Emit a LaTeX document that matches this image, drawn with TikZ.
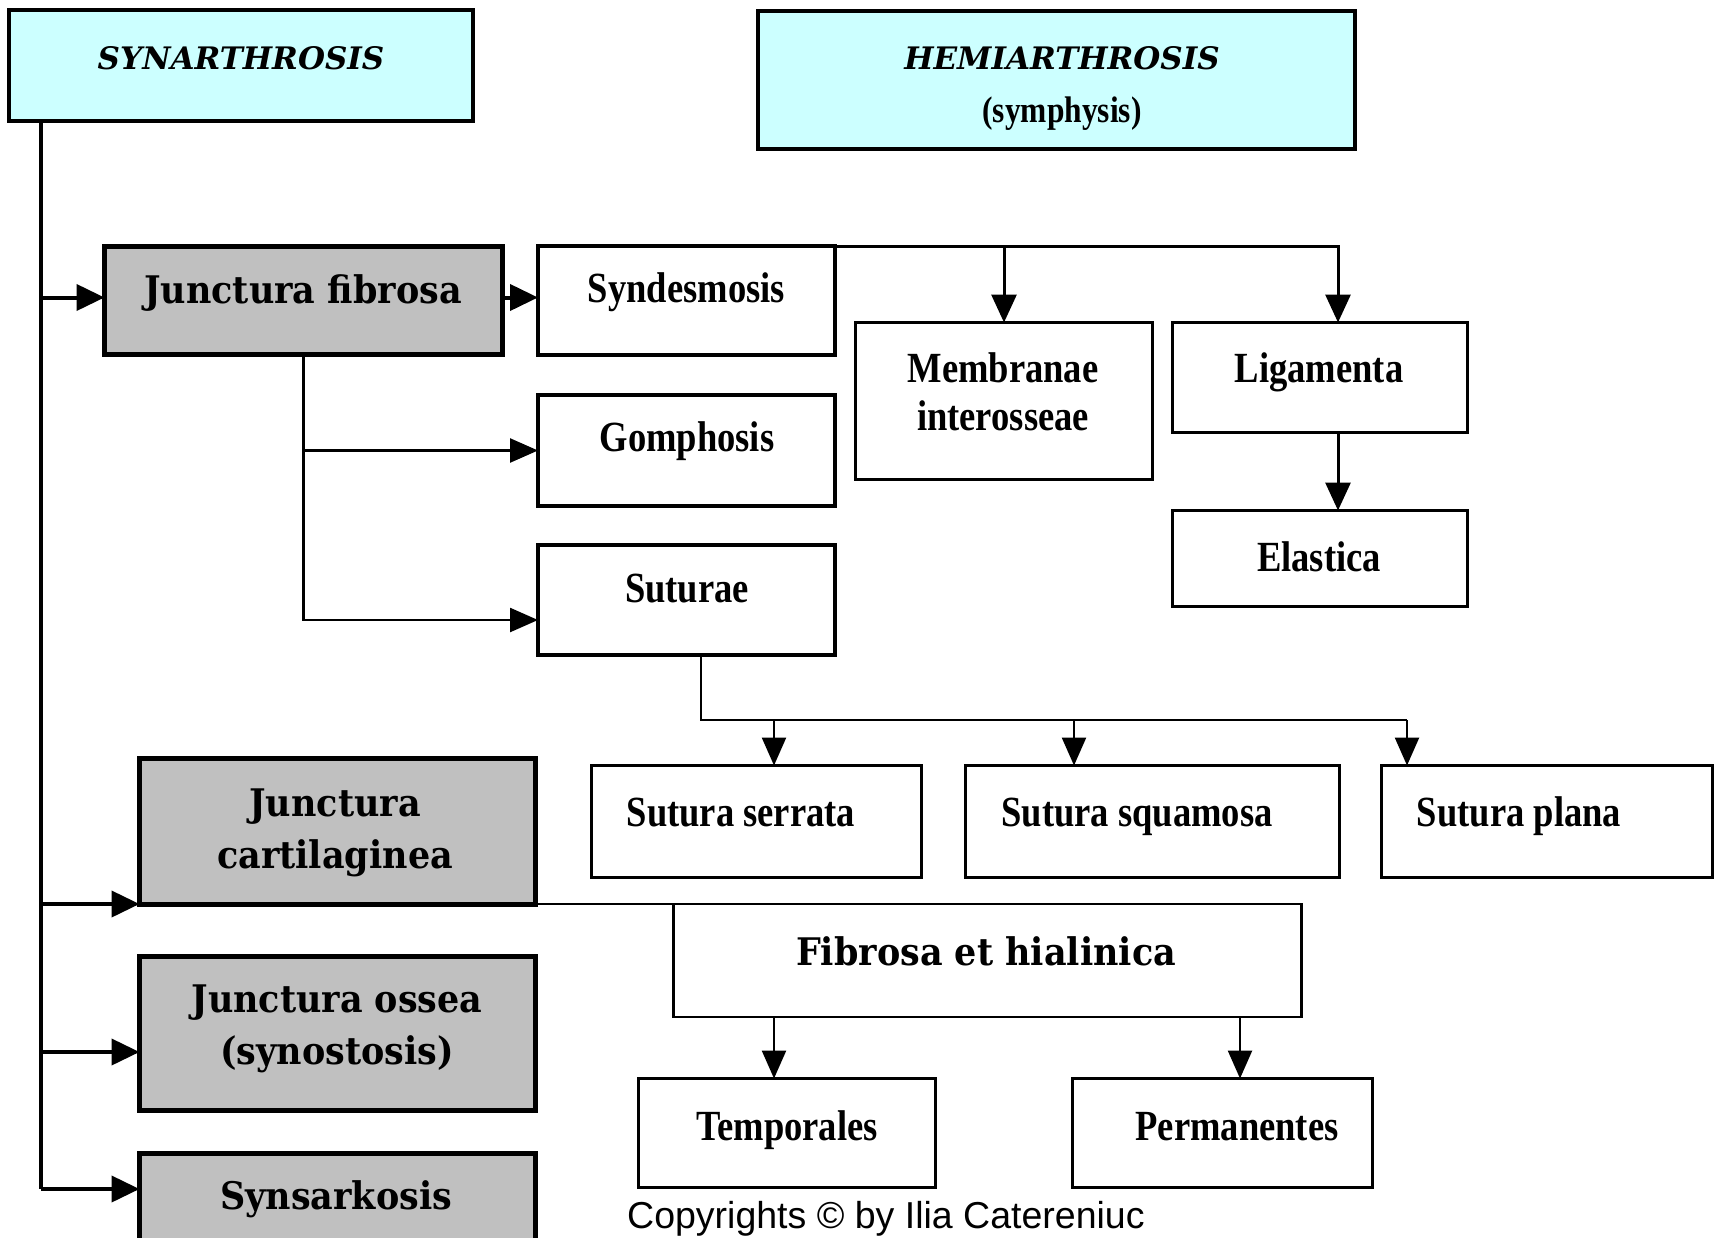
\documentclass[tikz,border=0pt]{standalone}
\usepackage{fontspec}
\usetikzlibrary{arrows.meta}

\newfontfamily\slabfont[FakeStretch=0.92]{DejaVu Serif}
\newfontfamily\condfont[FakeStretch=0.85]{Liberation Serif}
\newfontfamily\headfont{DejaVu Serif}
\newfontfamily\copyfont{Liberation Sans}

\definecolor{headcyan}{RGB}{204,255,255}
\definecolor{boxgray}{RGB}{192,192,192}

\tikzset{
  headbox/.style={draw, line width=4pt, fill=headcyan, outer sep=0pt},
  graybox/.style={draw, line width=5pt, fill=boxgray, outer sep=0pt},
  mainbox/.style={draw, line width=3.5pt, fill=white, outer sep=0pt},
  subbox/.style={draw, line width=2.5pt, fill=white, outer sep=0pt},
  headtxt/.style={font=\headfont\bfseries\itshape\fontsize{31}{36}\selectfont, anchor=base},
  slabtxt/.style={font=\slabfont\bfseries\fontsize{38}{52}\selectfont, anchor=base, align=center},
  condtxt/.style={font=\condfont\bfseries\fontsize{43}{48}\selectfont, anchor=base, align=center},
  copytxt/.style={font=\copyfont\fontsize{37.5}{42}\selectfont, anchor=base west, inner sep=0pt},
  trunkline/.style={line width=4pt},
  thickarrow/.style={line width=4pt, -{Triangle[length=28pt,width=26pt]}},
  midarrow/.style={line width=3pt, -{Triangle[length=28pt,width=25pt]}},
  thinarrow/.style={line width=2.5pt, -{Triangle[length=28pt,width=24pt]}},
  thinline/.style={line width=2.5pt}
}

\begin{document}
\begin{tikzpicture}[x=1pt,y=-1pt]
\useasboundingbox (0,0) rectangle (1723,1237);
\clip (0,0) rectangle (1723,1237);

% boxes
\node[headbox, minimum width=464pt, minimum height=111pt] (syn) at (241,65.5) {};
\node[headbox, minimum width=597pt, minimum height=138pt] (hemi) at (1056.5,80) {};

\node[graybox, minimum width=398pt, minimum height=108pt] (jfib) at (303.5,300.5) {};
\node[graybox, minimum width=396pt, minimum height=145.5pt] (jcart) at (337.5,831.25) {};
\node[graybox, minimum width=396pt, minimum height=154pt] (joss) at (337.5,1033.5) {};
\node[graybox, minimum width=396pt, minimum height=96pt] (synsk) at (337.5,1201) {};

\node[mainbox, minimum width=297pt, minimum height=109pt] (synd) at (686.5,300.5) {};
\node[mainbox, minimum width=297pt, minimum height=111pt] (gomp) at (686.5,450.5) {};
\node[mainbox, minimum width=297pt, minimum height=110pt] (sut) at (686.5,600) {};

\node[subbox, minimum width=297pt, minimum height=157pt] (memb) at (1004,401) {};
\node[subbox, minimum width=295pt, minimum height=110pt] (liga) at (1320,377.5) {};
\node[subbox, minimum width=295pt, minimum height=96pt] (elas) at (1320,558.5) {};

\node[subbox, minimum width=330pt, minimum height=112pt] (sserr) at (756.5,821.5) {};
\node[subbox, minimum width=374pt, minimum height=112pt] (ssqua) at (1152.5,821.5) {};
\node[subbox, minimum width=331pt, minimum height=112pt] (splan) at (1547,821.5) {};

\node[subbox, minimum width=628pt, minimum height=113pt] (fibhi) at (987.5,960.5) {};
\node[subbox, minimum width=297pt, minimum height=109pt] (temp) at (787,1133) {};
\node[subbox, minimum width=300pt, minimum height=109pt] (perm) at (1222.5,1133) {};

% texts (two-line texts sit on the baseline of their last line)
\node[headtxt] (syn-t) at (241,69) {SYNARTHROSIS};
\node[headtxt] (hemi-t) at (1062,69) {HEMIARTHROSIS};
\node[condtxt, font=\condfont\bfseries\fontsize{37}{40}\selectfont] (hemi-s) at (1062,122) {(symphysis)};

\node[slabtxt] (jfib-t) at (303,303) {Junctura fibrosa};
\node[slabtxt] (jcart-t) at (335,868) {Junctura\\cartilaginea};
\node[slabtxt] (joss-t) at (337,1064) {Junctura ossea\\(synostosis)};
\node[slabtxt] (synsk-t) at (336,1209) {Synsarkosis};
\node[slabtxt] (fibhi-t) at (986,965) {Fibrosa et hialinica};

\node[condtxt] (synd-t) at (686.5,302) {Syndesmosis};
\node[condtxt] (gomp-t) at (687,451) {Gomphosis};
\node[condtxt] (sut-t) at (687,602) {Suturae};
\node[condtxt] (memb-t) at (1003,430) {Membranae\\interosseae};
\node[condtxt] (liga-t) at (1319,382) {Ligamenta};
\node[condtxt] (elas-t) at (1319,571) {Elastica};
\node[condtxt] (sserr-t) at (741,826) {Sutura serrata};
\node[condtxt] (ssqua-t) at (1137,826) {Sutura squamosa};
\node[condtxt] (splan-t) at (1519,826) {Sutura plana};
\node[condtxt] (temp-t) at (787,1140) {Temporales};
\node[condtxt] (perm-t) at (1237,1140) {Permanentes};

\node[copytxt] (copy) at (627,1228) {Copyrights © by Ilia Catereniuc};

% main line on the left
\coordinate (trunk) at (41,123);
\coordinate (jfib-in) at ([yshift=3pt]jfib.west);
\coordinate (joss-in) at ([yshift=-18.5pt]joss.west);
\coordinate (synsk-in) at ([yshift=12pt]synsk.west);
\draw[trunkline] (trunk) -- (trunk |- synsk-in);
\foreach \p in {jfib-in, jcart.south west, joss-in, synsk-in}
  \draw[thickarrow] (trunk |- \p) -- (\p);

% junctura fibrosa
\draw[thickarrow] (jfib.east |- jfib-in) -- (synd.west |- jfib-in);
\coordinate (sut-in) at ([yshift=-20pt]sut.west);
\draw[thinarrow] (jfib.south) |- (gomp.west);
\draw[thinarrow] (jfib.south) |- (sut-in);

% syndesmosis
\coordinate (liga-in) at ([xshift=18pt]liga.north);
\draw[midarrow] (synd.north east) -| (liga-in);
\draw[midarrow] (memb.north |- synd.north) -- (memb.north);
\draw[midarrow] (liga-in |- liga.south) -- (liga-in |- elas.north);

% suturae
\coordinate (sserr-in) at ([xshift=17.5pt]sserr.north);
\coordinate (ssqua-in) at ([xshift=-78.5pt]ssqua.north);
\coordinate (splan-in) at ([xshift=-140pt]splan.north);
\draw[thinline] ([xshift=14.5pt]sut.south) -- ++(0,65) coordinate (bus) -- (bus -| splan-in);
\foreach \tgt in {sserr-in, ssqua-in, splan-in}
  \draw[thinarrow] (bus -| \tgt) -- (\tgt);

% junctura cartilaginea
\draw[thinline] (jcart.south east) -- (fibhi.north west);
\coordinate (temp-in) at ([xshift=-13pt]temp.north);
\coordinate (perm-in) at ([xshift=17.5pt]perm.north);
\draw[thinarrow] (temp-in |- fibhi.south) -- (temp-in);
\draw[thinarrow] (perm-in |- fibhi.south) -- (perm-in);
\end{tikzpicture}
\end{document}
